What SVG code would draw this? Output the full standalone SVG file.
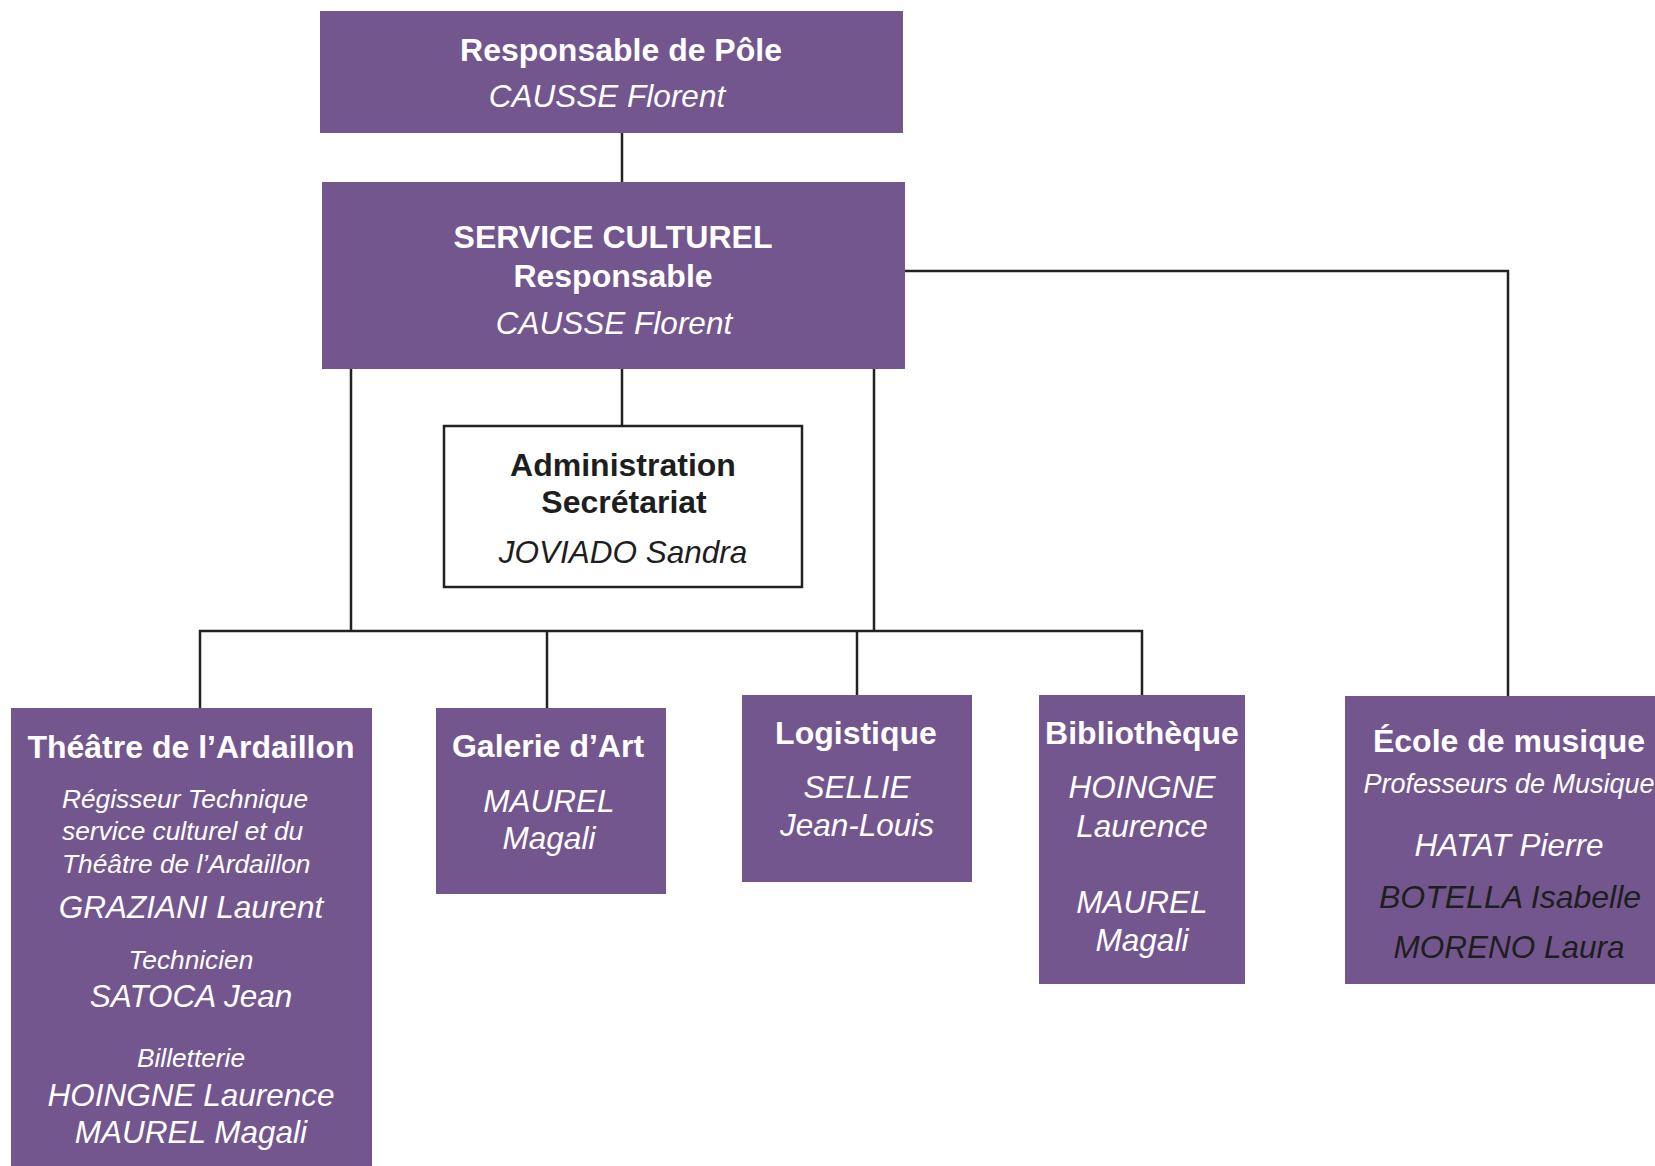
<svg xmlns="http://www.w3.org/2000/svg" width="1655" height="1166" viewBox="0 0 1655 1166">
<style>
.box{fill:#74568f}
.adm{fill:#fff;stroke:#222;stroke-width:2.5}
.conn{stroke:#222;stroke-width:2.5;fill:none}
text{font-family:"Liberation Sans",Arial,sans-serif;text-anchor:middle}
.b{font-weight:bold;font-size:32px}
.i{font-style:italic;font-size:31.5px}
.s{font-style:italic;font-size:26.3px}
.w{fill:#fff}
.d{fill:#1e1e1e}
</style>
<rect width="1655" height="1166" fill="#fff"/>
<g id="connectors">
<path class="conn" d="M622,133 V182"/>
<path class="conn" d="M905,271 H1508 V696"/>
<path class="conn" d="M351,368 V631"/>
<path class="conn" d="M622,368 V426"/>
<path class="conn" d="M874,368 V631"/>
<path class="conn" d="M200,708 V631 H1142 V695"/>
<path class="conn" d="M547,631 V708"/>
<path class="conn" d="M857,631 V695"/>
</g>
<g id="pole">
<rect class="box" x="320" y="11" width="583" height="122"/>
<text class="b w" x="621" y="61">Responsable de Pôle</text>
<text class="i w" x="607" y="107">CAUSSE Florent</text>
</g>
<g id="service">
<rect class="box" x="322" y="182" width="583" height="187"/>
<text class="b w" x="613" y="248">SERVICE CULTUREL</text>
<text class="b w" x="613" y="287">Responsable</text>
<text class="i w" x="614" y="334">CAUSSE Florent</text>
</g>
<g id="admin">
<rect class="adm" x="444" y="426" width="358" height="161"/>
<text class="b d" x="623" y="476">Administration</text>
<text class="b d" x="624" y="513">Secrétariat</text>
<text class="i d" x="623" y="563">JOVIADO Sandra</text>
</g>
<g id="theatre">
<rect class="box" x="11" y="708" width="361" height="470"/>
<text class="b w" x="191" y="758">Théâtre de l’Ardaillon</text>
<text class="s w" x="62" y="808" style="text-anchor:start">Régisseur Technique</text>
<text class="s w" x="62" y="840" style="text-anchor:start">service culturel et du</text>
<text class="s w" x="62" y="873" style="text-anchor:start">Théâtre de l’Ardaillon</text>
<text class="i w" x="191" y="918">GRAZIANI Laurent</text>
<text class="s w" x="191" y="969">Technicien</text>
<text class="i w" x="191" y="1007">SATOCA Jean</text>
<text class="s w" x="191" y="1067">Billetterie</text>
<text class="i w" x="191" y="1106">HOINGNE Laurence</text>
<text class="i w" x="191" y="1143">MAUREL Magali</text>
</g>
<g id="galerie">
<rect class="box" x="436" y="708" width="230" height="186"/>
<text class="b w" x="548" y="757">Galerie d’Art</text>
<text class="i w" x="549" y="812">MAUREL</text>
<text class="i w" x="549" y="849">Magali</text>
</g>
<g id="logistique">
<rect class="box" x="742" y="695" width="230" height="187"/>
<text class="b w" x="856" y="744">Logistique</text>
<text class="i w" x="857" y="798">SELLIE</text>
<text class="i w" x="857" y="836">Jean-Louis</text>
</g>
<g id="bibliotheque">
<rect class="box" x="1039" y="695" width="206" height="289"/>
<text class="b w" x="1142" y="744">Bibliothèque</text>
<text class="i w" x="1142" y="798">HOINGNE</text>
<text class="i w" x="1142" y="837">Laurence</text>
<text class="i w" x="1142" y="913">MAUREL</text>
<text class="i w" x="1142" y="951">Magali</text>
</g>
<g id="ecole">
<rect class="box" x="1345" y="696" width="320" height="288"/>
<text class="b w" x="1509" y="752">École de musique</text>
<text class="w" x="1509" y="793" style="font-style:italic;font-size:27px">Professeurs de Musique</text>
<text class="i w" x="1509" y="856">HATAT Pierre</text>
<text class="i d" x="1510" y="908" style="font-size:32px">BOTELLA Isabelle</text>
<text class="i d" x="1509" y="958">MORENO Laura</text>
</g>
</svg>
